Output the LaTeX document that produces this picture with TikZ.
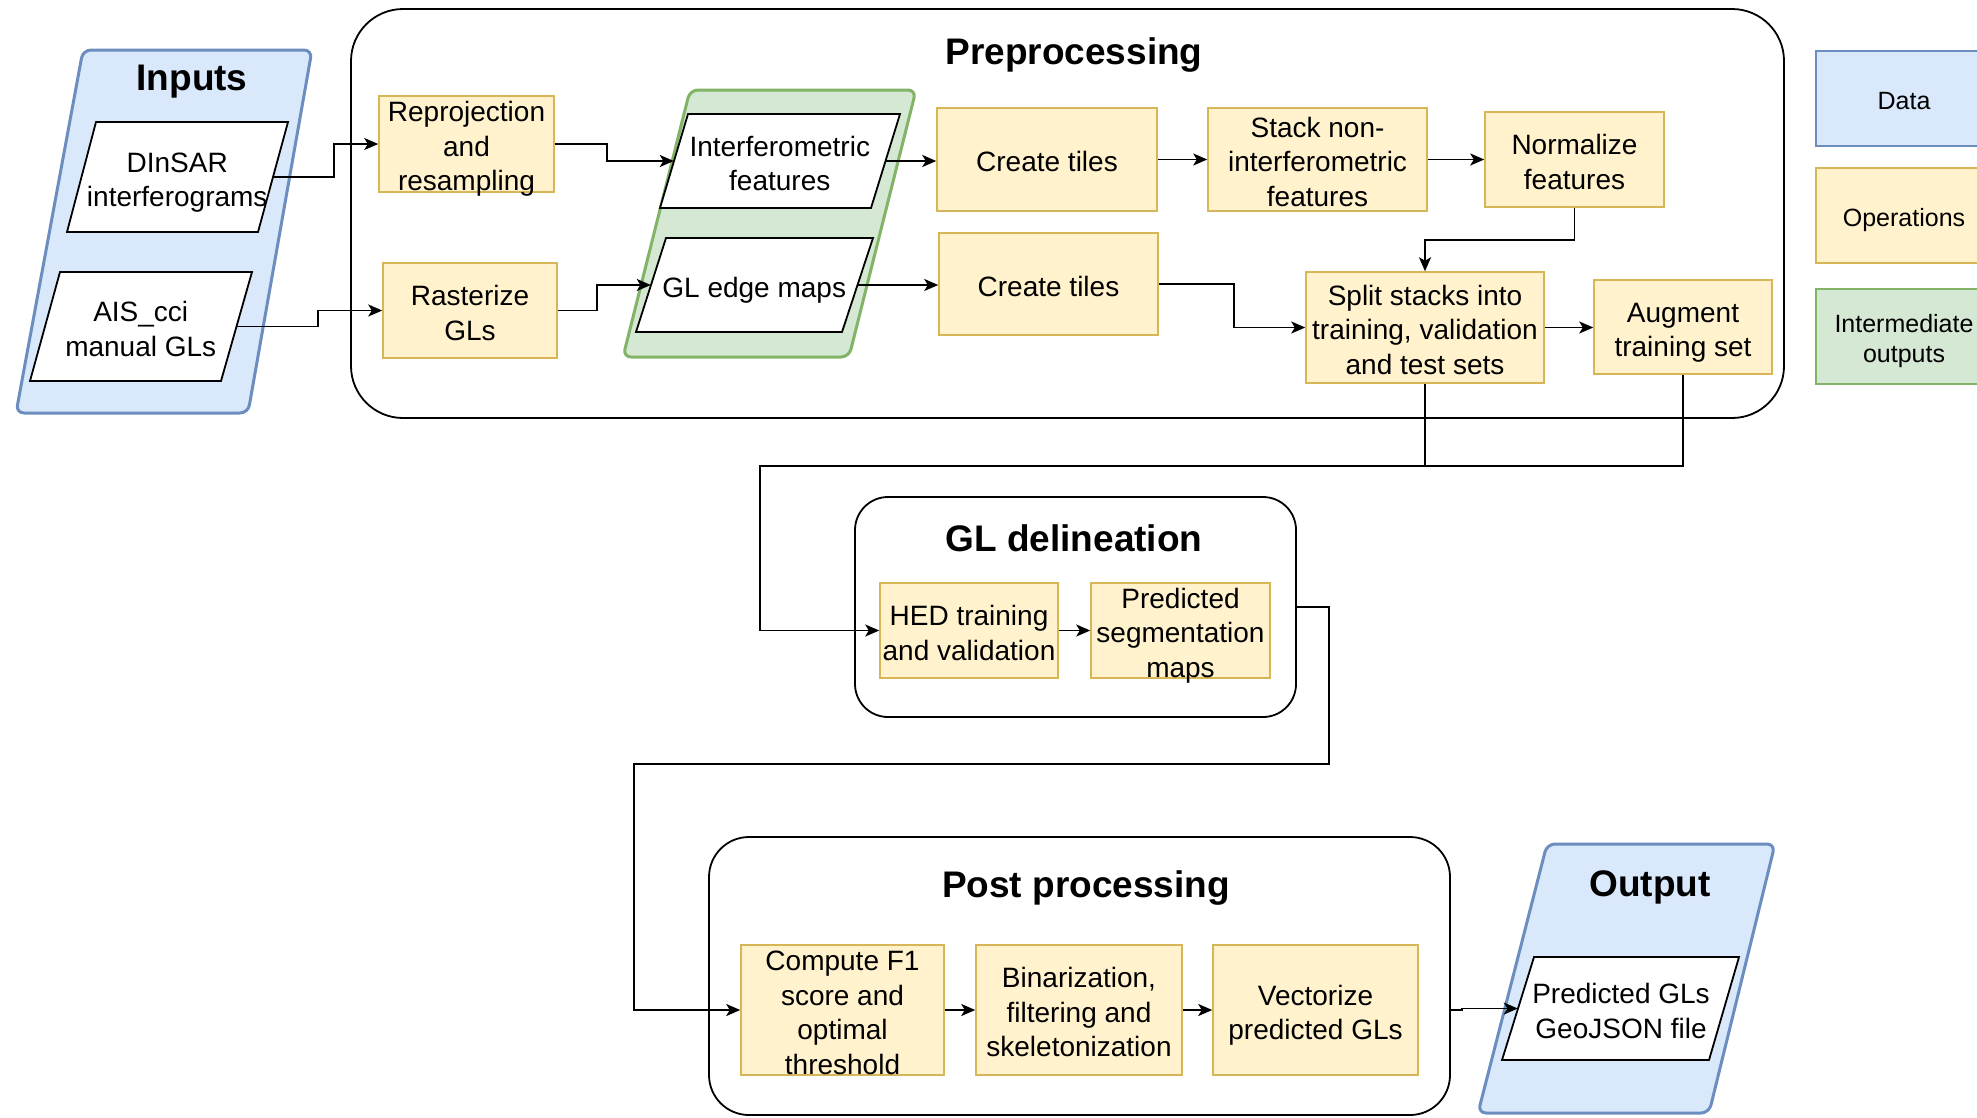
\documentclass[tikz,border=0pt]{standalone}
\usepackage{calc}
\usepackage{fontspec}
\setmainfont{Liberation Sans}
\usetikzlibrary{arrows.meta,calc}
\definecolor{bluefill}{HTML}{DAE8FC}
\definecolor{bluedraw}{HTML}{6C8EBF}
\definecolor{yelfill}{HTML}{FFF2CC}
\definecolor{yeldraw}{HTML}{D6B656}
\definecolor{grnfill}{HTML}{D5E8D4}
\definecolor{grndraw}{HTML}{82B366}
\newcommand\tx[2][-5.5pt]{\raisebox{#1}[\height-8pt][\depth-8pt]{\begin{tabular}{@{}c@{}}#2\end{tabular}}}
\begin{document}
\begin{tikzpicture}[x=1pt,y=-1pt,
  font=\fontsize{28}{34.5}\selectfont,
  txt/.style={inner sep=0pt, align=center},
  opbox/.style={draw=yeldraw, fill=yelfill, line width=1.5pt, inner sep=0pt, align=center},
  ttl/.style={inner sep=0pt, font=\fontsize{37}{44}\selectfont\bfseries},
  cont/.style={draw=black, line width=1.8pt, inner sep=0pt},
  bluecont/.style={draw=bluedraw, fill=bluefill, line width=3pt, rounded corners=8pt},
  greencont/.style={draw=grndraw, fill=grnfill, line width=3pt, rounded corners=8pt},
  wpara/.style={draw=black, fill=white, line width=1.8pt},
  legbox/.style={line width=1.5pt, inner sep=0pt, align=center, font=\fontsize{25}{30}\selectfont, minimum width=176pt, minimum height=95pt},
  conn/.style={line width=1.8pt},
  arr/.style={line width=1.8pt, -{Stealth[length=14pt,width=12pt,inset=3.5pt]}}
]
\useasboundingbox (0,0) rectangle (1977,1117);
\clip (0,0) rectangle (1977,1117);

% ---------- containers ----------
\node[cont, minimum width=1433pt, minimum height=409pt, rounded corners=52pt] (prep) at (1067.5,213.5) {};
\node[ttl] (preptitle) at (1074,55) {Preprocessing};

\node[cont, minimum width=441pt, minimum height=220pt, rounded corners=33pt] (gldel) at (1075.5,607) {};
\node[ttl] (gldeltitle) at (1074,538) {GL delineation};

\node[cont, minimum width=741pt, minimum height=278pt, rounded corners=40pt] (post) at (1079.5,976) {};
\node[ttl] (posttitle) at (1086,888) {Post processing};

% ---------- inputs ----------
\draw[bluecont] (83,50) -- (312,50) -- (248,413) -- (16,413) -- cycle;
\node[ttl] (inputstitle) at (192,82) {Inputs};
\draw[wpara] (96,122) -- (288,122) -- (258,232) -- (67,232) -- cycle;
\node[txt, minimum width=191.5pt, minimum height=110pt] (dinsar) at (177.25,177) {\tx{DInSAR\\interferograms}};
\draw[wpara] (60,272) -- (252,272) -- (221,381) -- (30,381) -- cycle;
\node[txt, minimum width=191.5pt, minimum height=109pt] (ais) at (140.75,326.5) {\tx{AIS\_cci\\manual GLs}};

% ---------- intermediate outputs ----------
\draw[greencont] (690,90) -- (916,90) -- (849,357) -- (623,357) -- cycle;
\draw[wpara] (688,114) -- (900,114) -- (871,208) -- (660,208) -- cycle;
\node[txt, minimum width=211.5pt, minimum height=94pt] (interf) at (779.75,161) {\tx{Interferometric\\features}};
\draw[wpara] (666,238) -- (873,238) -- (842,332) -- (636,332) -- cycle;
\node[txt, minimum width=206.5pt, minimum height=94pt] (gledge) at (754.25,285) {\tx{GL edge maps}};

% ---------- output ----------
\draw[bluecont] (1547,844) -- (1775,844) -- (1709,1113) -- (1478,1113) -- cycle;
\node[ttl] (outtitle) at (1650,887) {Output};
\draw[wpara] (1534,957) -- (1739,957) -- (1709,1060) -- (1502,1060) -- cycle;
\node[txt, minimum width=206pt, minimum height=103pt] (predgl) at (1621,1008.5) {\tx{Predicted GLs\\GeoJSON file}};

% ---------- operations ----------
\node[opbox, minimum width=175pt, minimum height=96pt] (reproj) at (466.5,144) {\tx{Reprojection\\and\\resampling}};
\node[opbox, minimum width=174pt, minimum height=95pt] (raster) at (470,310.5) {\tx{Rasterize\\GLs}};
\node[opbox, minimum width=220pt, minimum height=103pt] (tiles1) at (1047,159.5) {\tx{Create tiles}};
\node[opbox, minimum width=219pt, minimum height=102pt] (tiles2) at (1048.5,284) {\tx{Create tiles}};
\node[opbox, minimum width=219pt, minimum height=103pt] (stack) at (1317.5,159.5) {\tx{Stack non-\\interferometric\\features}};
\node[opbox, minimum width=179pt, minimum height=95pt] (norm) at (1574.5,159.5) {\tx{Normalize\\features}};
\node[opbox, minimum width=238pt, minimum height=111pt] (split) at (1425,327.5) {\tx{Split stacks into\\training, validation\\and test sets}};
\node[opbox, minimum width=178pt, minimum height=94pt] (augment) at (1683,327) {\tx{Augment\\training set}};
\node[opbox, minimum width=178pt, minimum height=95pt] (hed) at (969,630.5) {\tx{HED training\\and validation}};
\node[opbox, minimum width=179pt, minimum height=95pt] (predseg) at (1180.5,630.5) {\tx{Predicted\\segmentation\\maps}};
\node[opbox, minimum width=203pt, minimum height=130pt] (compute) at (842.5,1010) {\tx{Compute F1\\score and\\optimal\\threshold}};
\node[opbox, minimum width=206pt, minimum height=130pt] (binar) at (1079,1010) {\tx{Binarization,\\filtering and\\skeletonization}};
\node[opbox, minimum width=205pt, minimum height=130pt] (vector) at (1315.5,1010) {\tx{Vectorize\\predicted GLs}};

% ---------- legend ----------
\node[legbox, draw=bluedraw, fill=bluefill] (legdata) at (1904,98.5) {\tx[-5pt]{Data}};
\node[legbox, draw=yeldraw, fill=yelfill] (legops) at (1904,215.5) {\tx[-5pt]{Operations}};
\node[legbox, draw=grndraw, fill=grnfill] (leginter) at (1904,336.5) {\tx[-5pt]{Intermediate\\outputs}};

% ---------- connectors ----------
\coordinate (jA) at (760,466);
\coordinate (jB) at (634,764);
\draw[arr] (dinsar.east) -- ++(61,0) |- (reproj.west);
\draw[arr] (ais.east) -- ++(81,0) |- (raster.west);
\draw[arr] (reproj.east) -- ++(52,0) |- (interf.west);
\draw[arr] (raster.east) -- ++(39,0) |- (gledge.west);
\draw[arr] (interf.east) -- (interf.east -| tiles1.west);
\draw[arr] (gledge.east) -- (gledge.east -| tiles2.west);
\draw[arr] (tiles1.east) -- (stack.west);
\draw[arr] (stack.east) -- (norm.west);
\draw[arr] (norm.south) -- ++(0,32) -| (split.north);
\draw[arr] (tiles2.east) -- ++(75,0) |- (split.west);
\draw[arr] (split.east) -- (split.east -| augment.west);
\draw[conn] (split.south) -- (split.south |- jA);
\draw[arr] (augment.south) |- (jA) |- (hed.west);
\draw[arr] (hed.east) -- (predseg.west);
\draw[arr] (gldel.east) -- ++(32,0) |- (jB) |- (compute.west);
\draw[arr] (compute.east) -- (binar.west);
\draw[arr] (binar.east) -- (vector.west);
\draw[arr] (post.east |- vector.east) -- ++(11,0) |- (predgl.west);
\end{tikzpicture}
\end{document}
